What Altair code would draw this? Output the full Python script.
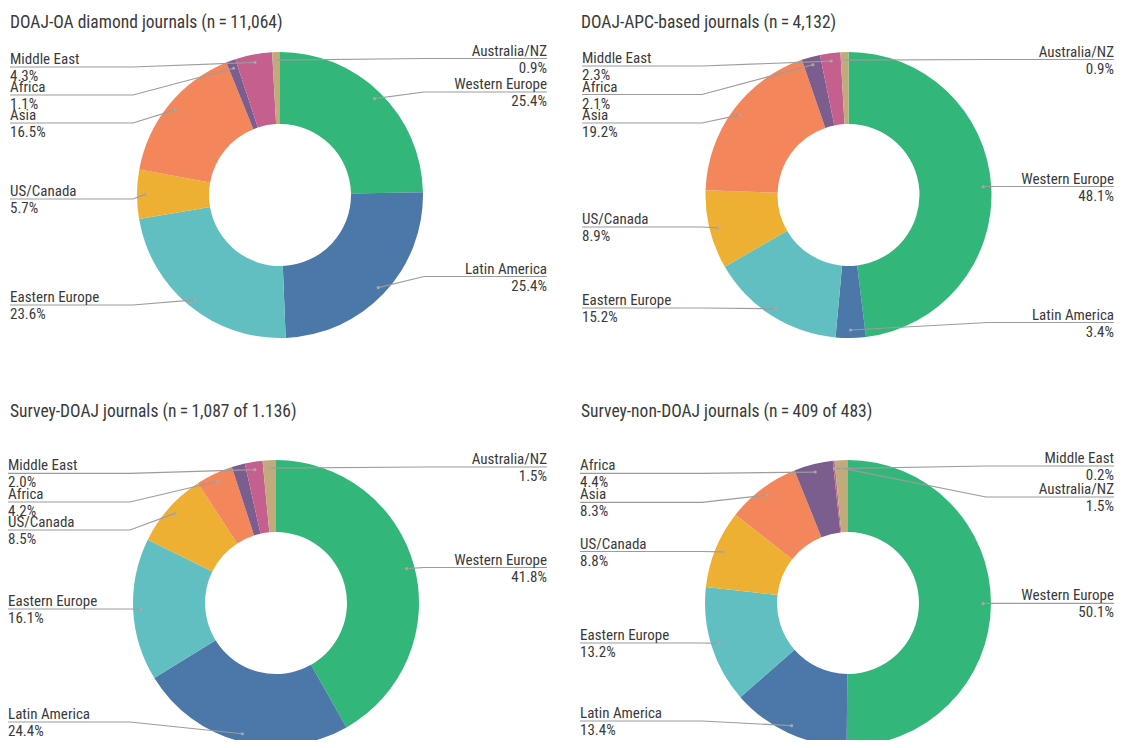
import altair as alt
import pandas as pd
import numpy as np

# ---------------- data ----------------
regions = ["Western Europe", "Latin America", "Eastern Europe", "US/Canada",
           "Asia", "Africa", "Middle East", "Australia/NZ"]
region_colors = ["#33b679", "#4b77a9", "#62bfc1", "#eeb033",
                 "#f3865b", "#7b5e8e", "#c45f8e", "#c2ab7a"]

titles = ["DOAJ-OA diamond journals (n\u2009=\u200911,064)",
          "DOAJ-APC-based journals (n\u2009=\u20094,132)",
          "Survey-DOAJ journals (n\u2009=\u20091,087 of 1.136)",
          "Survey-non-DOAJ journals (n\u2009=\u2009409 of 483)"]

# shares (%) per region, in the order of `regions`
share_diamond = [25.4, 25.4, 23.6, 5.7, 16.5, 1.1, 4.3, 0.9]
share_apc = [48.1, 3.4, 15.2, 8.9, 19.2, 2.1, 2.3, 0.9]
share_survey_doaj = [41.8, 24.4, 16.1, 8.5, 4.2, 1.5, 2.0, 1.5]
share_survey_non = [50.1, 13.4, 13.2, 8.8, 8.3, 4.4, 0.2, 1.5]

# label text printed next to each slice ("" = slice has no label)
labels_diamond = regions
labels_apc = regions
labels_survey_doaj = ["Western Europe", "Latin America", "Eastern Europe", "US/Canada",
                      "Africa", "", "Middle East", "Australia/NZ"]
labels_survey_non = regions

shares = [share_diamond, share_apc, share_survey_doaj, share_survey_non]
labels = [labels_diamond, labels_apc, labels_survey_doaj, labels_survey_non]

# ---------------- layout (page pixels) ----------------
centers = [(280, 195), (848.5, 195), (276, 603), (848, 603)]
title_pos = [(10, 28), (581, 28), (10, 417), (581, 417)]
text_left = [10, 582, 8, 580]
text_right = [547, 1114, 547, 1114]
elbow_left = [133, 702, 130, 702]
elbow_right = [424, 988, 424, 986]
label_side = [
    ["R", "R", "L", "L", "L", "L", "L", "R"],
    ["R", "R", "L", "L", "L", "L", "L", "R"],
    ["R", "L", "L", "L", "L", "L", "L", "R"],
    ["R", "L", "L", "L", "L", "L", "R", "R"],
]
leader_y = [
    [92, 276.5, 305, 199, 123, 95, 67, 58.5],
    [186.5, 322.5, 308, 227, 123, 94.5, 66, 59.5],
    [567.5, 722, 609, 530, 502, 0, 473.3, 467],
    [603.3, 721, 643, 551.5, 502.3, 473.3, 466, 497],
]
R_OUT, R_IN, R_DOT = 143, 71, 135
NAME_DY, PCT_DY = -3, 14

# ---------------- build tables ----------------
arc_rows, line_rows, dot_rows, lab_rows, title_rows = [], [], [], [], []
for p in range(4):
    vals = np.array(shares[p], dtype=float)
    frac = vals / vals.sum()
    ends = np.cumsum(frac) * 2 * np.pi
    starts = ends - frac * 2 * np.pi
    cx, cy = centers[p]
    for i, reg in enumerate(regions):
        arc_rows.append(dict(panel=p, region=reg, a0=starts[i], a1=ends[i], cx=cx, cy=cy))
        txt = labels[p][i]
        if not txt:
            continue
        mid = (starts[i] + ends[i]) / 2
        dx, dy = cx + R_DOT * np.sin(mid), cy - R_DOT * np.cos(mid)
        dot_rows.append(dict(px=dx, py=dy))
        side = label_side[p][i]
        ly = leader_y[p][i]
        if side == "L":
            tx, ex = text_left[p], elbow_left[p]
        else:
            tx, ex = text_right[p], elbow_right[p]
        lid = f"{p}-{i}"
        for k, (x, y) in enumerate([(tx, ly), (ex, ly), (dx, dy)]):
            line_rows.append(dict(lid=lid, k=k, px=x, py=y))
        pct = f"{vals[i]:.1f}%"
        lab_rows.append(dict(side=side, px=tx, py=ly + NAME_DY, text=txt))
        lab_rows.append(dict(side=side, px=tx, py=ly + PCT_DY, text=pct))
    title_rows.append(dict(px=title_pos[p][0], py=title_pos[p][1], text=titles[p]))

arcs = pd.DataFrame(arc_rows)
lines = pd.DataFrame(line_rows)
dots = pd.DataFrame(dot_rows)
labs = pd.DataFrame(lab_rows)
tits = pd.DataFrame(title_rows)

W, H = 1107, 732
xs = alt.Scale(domain=[8, 8 + W], range=[0, W], nice=False, zero=False)
ys = alt.Scale(domain=[8, 8 + H], range=[0, H], nice=False, zero=False)
FONT = "Roboto Condensed, Liberation Sans Narrow, DejaVu Sans Condensed, sans-serif"
TXT = "#3a3a3a"

arc_layer = alt.Chart(arcs).mark_arc(innerRadius=R_IN, outerRadius=R_OUT).encode(
    x=alt.X("cx:Q", scale=xs, axis=None),
    y=alt.Y("cy:Q", scale=ys, axis=None),
    theta=alt.Theta("a0:Q", scale=None),
    theta2="a1:Q",
    color=alt.Color("region:N", scale=alt.Scale(domain=regions, range=region_colors), legend=None),
)

line_layer = alt.Chart(lines).mark_line(color="#9c9c9c", strokeWidth=1.2).encode(
    x=alt.X("px:Q", scale=xs, axis=None),
    y=alt.Y("py:Q", scale=ys, axis=None),
    detail="lid:N",
    order="k:Q",
)

dot_layer = alt.Chart(dots).mark_circle(color="#a8a8a8", size=10, opacity=1).encode(
    x=alt.X("px:Q", scale=xs, axis=None),
    y=alt.Y("py:Q", scale=ys, axis=None),
)

def text_layer(side, align):
    return alt.Chart(labs).transform_filter(alt.datum.side == side).mark_text(
        align=align, baseline="alphabetic", font=FONT, fontSize=15, color=TXT
    ).encode(
        x=alt.X("px:Q", scale=xs, axis=None),
        y=alt.Y("py:Q", scale=ys, axis=None),
        text="text:N",
    )

title_layer = alt.Chart(tits).mark_text(
    align="left", baseline="alphabetic", font=FONT, fontSize=17.5, color=TXT
).encode(
    x=alt.X("px:Q", scale=xs, axis=None),
    y=alt.Y("py:Q", scale=ys, axis=None),
    text="text:N",
)

chart = alt.layer(
    arc_layer, line_layer, dot_layer,
    text_layer("L", "left"), text_layer("R", "right"), title_layer
).properties(
    width=W, height=H, padding=0,
    autosize=alt.AutoSizeParams(type="none"),
    background="white",
).configure_view(stroke=None)

chart.save("out.html", embed_options={"renderer": "svg", "actions": False})
